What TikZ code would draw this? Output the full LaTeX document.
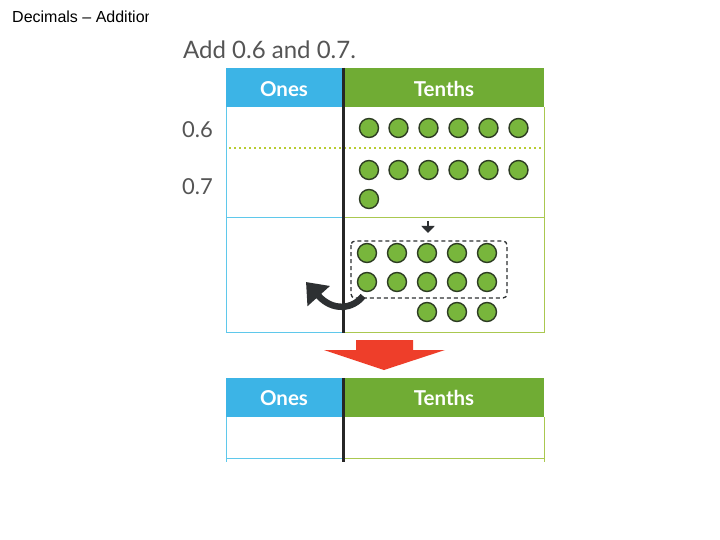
\documentclass[tikz,border=0pt]{standalone}
\usepackage{fontspec}
\setmainfont{Lato}
\newfontfamily\arialfont{Liberation Sans}
\usetikzlibrary{arrows.meta}
\definecolor{hblue}{RGB}{60,180,230}
\definecolor{hgreen}{RGB}{112,172,52}
\definecolor{lblue}{RGB}{95,200,235}
\definecolor{lgreen}{RGB}{170,200,80}
\definecolor{dotline}{RGB}{185,205,50}
\definecolor{cgreen}{RGB}{120,182,60}
\definecolor{cdark}{RGB}{45,60,35}
\definecolor{titlegray}{RGB}{85,85,85}
\definecolor{redarrow}{RGB}{238,62,42}
\definecolor{darkarrow}{RGB}{45,48,50}
\tikzset{
  counter/.style={circle, draw=cdark, fill=cgreen, line width=1.4pt, minimum size=19pt, inner sep=0pt},
  headtext/.style={text=white, font=\bfseries\fontsize{20.5}{24}\selectfont, inner sep=0pt},
  rowlabel/.style={text=titlegray, font=\fontsize{22}{26}\selectfont, inner sep=0pt},
  bluerule/.style={draw=lblue, line width=1pt},
  greenrule/.style={draw=lgreen, line width=1pt},
  divider/.style={draw=black!85, line width=3pt}
}
\begin{document}
\begin{tikzpicture}[x=1pt,y=-1pt]
\useasboundingbox (0,0) rectangle (720,540);
\fill[white] (0,0) rectangle (720,540);
% top-left caption, clipped as printed
\begin{scope}
\clip (0,0) rectangle (148.5,40);
\node[anchor=base west, inner sep=0pt, font=\arialfont\fontsize{16}{19}\selectfont] (cap) at (12,23) {Decimals – Addition};
\end{scope}
% title
\node[anchor=base west, inner sep=0pt, text=titlegray, font=\fontsize{24}{28}\selectfont] (title) at (183,59) {Add 0.6 and 0.7.};
% ---------- top table ----------
\fill[hblue] (226,68) rectangle (342,107);
\fill[hgreen] (344,68) rectangle (544,107);
\node[headtext] (ones1) at (284,89) {Ones};
\node[headtext] (tenths1) at (444,89) {Tenths};
% borders
\draw[bluerule] (226,107) -- (226,332) -- (342,332);
\draw[bluerule] (226,218) -- (342,218);
\draw[greenrule] (344,218) -- (544,218);
\draw[greenrule] (344,332) -- (544,332) -- (544,107);
\draw[dotline, line width=2pt, dash pattern=on 2pt off 3pt] (229,148) -- (542,148);
\draw[divider] (343,68) -- (343,333);
% row labels
\node[rowlabel, anchor=base west] (l06) at (182,138) {0.6};
\node[rowlabel, anchor=base west] (l07) at (182,195) {0.7};
% counters 0.6
\foreach \i/\x in {1/369,2/398.5,3/428.5,4/458.5,5/488.5,6/518.5}{
  \node[counter] (t\i) at (\x,128) {};
}
% counters 0.7
\foreach \i/\x in {1/369,2/398.5,3/428.5,4/458.5,5/488.5,6/518.5}{
  \node[counter] (u\i) at (\x,170) {};
}
\node[counter] (u7) at (369,199) {};
% small down arrow
\coordinate (sa) at (428,221);
\coordinate (sb) at (428,233);
\draw[darkarrow, line width=2pt, -{Triangle[length=7pt,width=13pt]}] (sa) -- (sb);
% dashed group box
\draw[darkarrow, line width=1.3pt, dash pattern=on 4pt off 3pt, rounded corners=4pt] (351,241) rectangle (507,298);
\foreach \i/\x in {1/367,2/397,3/427,4/457,5/487}{
  \node[counter] (a\i) at (\x,253) {};
  \node[counter] (b\i) at (\x,282) {};
}
\foreach \i/\x in {1/427,2/457,3/487}{
  \node[counter] (c\i) at (\x,312) {};
}
% curved regroup arrow
\coordinate (ca) at (363,296);
\coordinate (cb) at (306,282);
\draw[darkarrow, line width=6.5pt, -{Triangle[length=19pt,width=29pt]}] (ca) .. controls (353,309) and (333,312) .. (cb);
% ---------- red block arrow ----------
\fill[redarrow] (356,340) -- (413,340) -- (413,350) -- (445,350) -- (384,370) -- (324,350) -- (356,350) -- cycle;
% ---------- bottom table ----------
\fill[hblue] (226,378) rectangle (342,417);
\fill[hgreen] (344,378) rectangle (544,417);
\node[headtext] (ones2) at (284,398) {Ones};
\node[headtext] (tenths2) at (444,398) {Tenths};
\draw[bluerule] (226,417) -- (226,462);
\draw[bluerule] (226,458) -- (342,458);
\draw[greenrule] (344,458) -- (544,458);
\draw[greenrule] (544,417) -- (544,462);
\draw[divider] (343,378) -- (343,462);
\end{tikzpicture}
\end{document}
